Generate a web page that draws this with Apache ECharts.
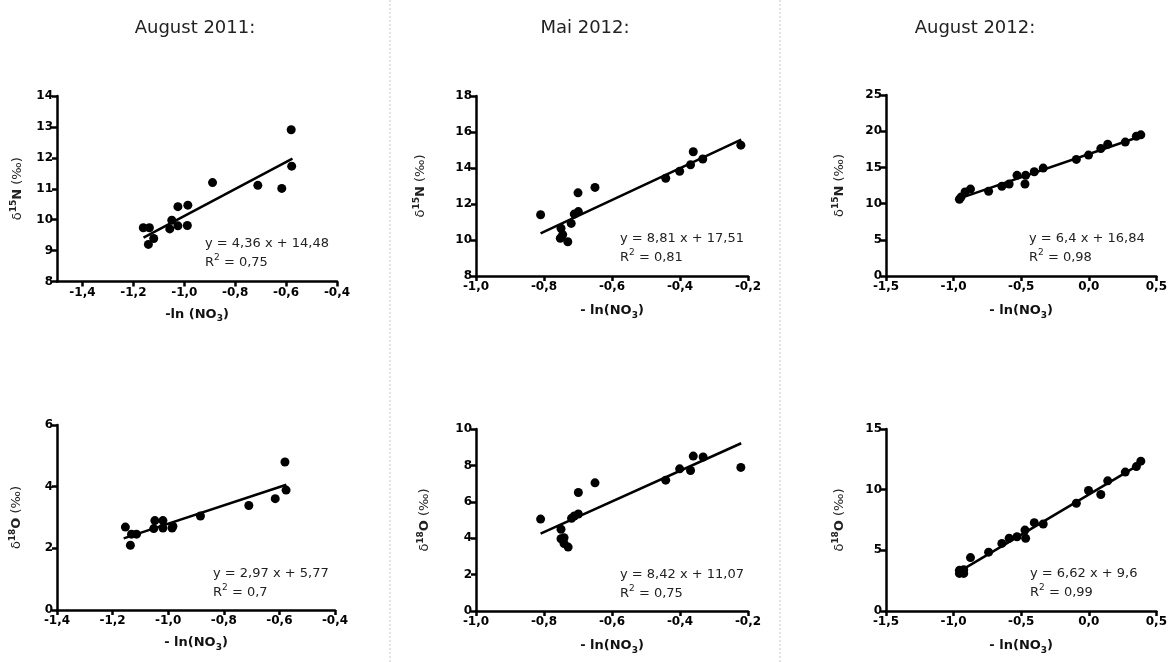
<!DOCTYPE html>
<html><head><meta charset="utf-8">
<script src="https://cdn.jsdelivr.net/npm/echarts@6/dist/echarts.min.js"></script>
<style>html,body{margin:0;padding:0;background:#fff}#c{width:1170px;height:662px}</style>
</head><body><div id="c"></div>
<script>
// ---------- DATA ----------
const columnTitles = ['August 2011:', 'Mai 2012:', 'August 2012:'];

// August 2011
const aug11_x_N = [-1.161,-1.137,-1.141,-1.12,-1.057,-1.049,-1.025,-1.025,-0.988,-0.986,-0.889,-0.711,-0.617,-0.58,-0.578];
const aug11_N   = [9.74,9.74,9.20,9.39,9.70,9.98,10.42,9.80,9.81,10.47,11.20,11.11,11.01,12.91,11.73];
const aug11_x_O = [-1.154,-1.136,-1.132,-1.114,-1.052,-1.048,-1.019,-1.019,-0.986,-0.983,-0.884,-0.71,-0.615,-0.58,-0.576];
const aug11_O   = [2.69,2.10,2.46,2.46,2.64,2.90,2.90,2.66,2.66,2.72,3.05,3.39,3.61,4.80,3.89];

// Mai 2012
const mai12_x_N = [-0.81,-0.75,-0.752,-0.745,-0.73,-0.72,-0.711,-0.70,-0.699,-0.65,-0.442,-0.401,-0.369,-0.361,-0.333,-0.221];
const mai12_N   = [11.4,10.65,10.1,10.3,9.9,10.92,11.44,12.62,11.58,12.92,13.43,13.82,14.18,14.9,14.5,15.27];
const mai12_x_O = [-0.81,-0.75,-0.75,-0.741,-0.741,-0.729,-0.719,-0.711,-0.699,-0.699,-0.65,-0.442,-0.401,-0.369,-0.361,-0.332,-0.221];
const mai12_O   = [5.05,4.49,3.97,4.03,3.71,3.51,5.09,5.22,5.33,6.51,7.04,7.19,7.81,7.72,8.51,8.46,7.89];

// August 2012
const aug12_x_N = [-0.957,-0.945,-0.915,-0.875,-0.741,-0.643,-0.589,-0.531,-0.472,-0.467,-0.403,-0.337,-0.092,-0.002,0.089,0.14,0.27,0.352,0.385];
const aug12_N   = [10.6,10.9,11.6,12.0,11.7,12.4,12.7,13.9,12.7,13.9,14.4,14.9,16.1,16.7,17.6,18.2,18.5,19.3,19.5];
const aug12_x_O = [-0.957,-0.957,-0.925,-0.925,-0.875,-0.741,-0.643,-0.589,-0.531,-0.472,-0.467,-0.403,-0.337,-0.092,-0.002,0.089,0.14,0.27,0.352,0.385];
const aug12_O   = [3.35,3.1,3.1,3.4,4.4,4.85,5.57,6.0,6.12,6.67,5.99,7.28,7.17,8.88,9.93,9.6,10.73,11.45,11.9,12.35];

// Regression (order: Aug11 N, Mai12 N, Aug12 N, Aug11 O, Mai12 O, Aug12 O)
const slopes     = [4.36, 8.81, 6.4, 2.97, 8.42, 6.62];
const intercepts = [14.48, 17.51, 16.84, 5.77, 11.07, 9.6];
const rSquared   = ['0,75', '0,81', '0,98', '0,7', '0,75', '0,99'];
const fitFrom    = [-1.16, -0.81, -0.95, -1.16, -0.81, -0.95];
const fitTo      = [-0.575, -0.22, 0.385, -0.575, -0.22, 0.385];

// Axis scales
const xMins = [-1.5, -1.0, -1.5, -1.4, -1.0, -1.5];
const xMaxs = [-0.4, -0.2, 0.5, -0.4, -0.2, 0.5];
const xSteps = [0.2, 0.2, 0.5, 0.2, 0.2, 0.5];
const xTickValsTL = [-1.4, -1.2, -1.0, -0.8, -0.6, -0.4];
const yMins = [8, 8, 0, 0, 0, 0];
const yMaxs = [14, 18, 25, 6, 10, 15];
const ySteps = [1, 2, 5, 2, 2, 5];
const xNames = ['-ln (NO', '- ln(NO', '- ln(NO', '- ln(NO', '- ln(NO', '- ln(NO'];
const yIso = ['15', '15', '15', '18', '18', '18'];
const yEl  = ['N', 'N', 'N', 'O', 'O', 'O'];

// ---------- LAYOUT ----------
const panels = [
  {left:57,  top:96,  width:280, height:185.5, yGap:31, xGap:24, eq:[205,234]},
  {left:476, top:96,  width:272, height:180,   yGap:47, xGap:26, eq:[620,229]},
  {left:886, top:95,  width:272, height:181,   yGap:38, xGap:26, eq:[1029,229]},
  {left:57,  top:425, width:278, height:185,   yGap:32, xGap:24, eq:[213,564]},
  {left:476, top:429, width:272, height:182,   yGap:43, xGap:26, eq:[620,565]},
  {left:886, top:429, width:272, height:182,   yGap:38, xGap:26, eq:[1030,564]}
];
const xData = [aug11_x_N, mai12_x_N, aug12_x_N, aug11_x_O, mai12_x_O, aug12_x_O];
const yData = [aug11_N, mai12_N, aug12_N, aug11_O, mai12_O, aug12_O];

const FONT = 'DejaVu Sans';
const comma = v => String(v).replace('.', ',');
const fmt1 = v => (Math.abs(v) < 1e-9 ? 0 : v).toFixed(1).replace('.', ',');

const grids = [], xAxes = [], yAxes = [], series = [], graphics = [];
panels.forEach((p, i) => {
  grids.push({left:p.left, top:p.top, width:p.width, height:p.height});
  const axisLine = {onZero:false, lineStyle:{color:'#000', width:2.5}};
  const axisTick = {show:true, length:5, lineStyle:{color:'#000', width:2.5}};
  const xa = {
    gridIndex:i, type:'value', min:xMins[i], max:xMaxs[i], interval:xSteps[i],
    axisLine, axisTick:Object.assign({}, axisTick),
    axisLabel:{formatter:fmt1, fontFamily:FONT, fontWeight:'bold', fontSize:12, color:'#000', margin:5, showMinLabel:true, showMaxLabel:true},
    splitLine:{show:false},
    name:'{b|' + xNames[i] + '}{s|3}{b|)}', nameLocation:'middle', nameGap:p.xGap,
    nameTextStyle:{rich:{
      b:{fontFamily:FONT, fontWeight:'bold', fontSize:13, color:'#111', lineHeight:18},
      s:{fontFamily:FONT, fontWeight:'bold', fontSize:9, color:'#111', verticalAlign:'bottom', lineHeight:18}
    }}
  };
  if (i === 0) {
    xa.axisLabel.customValues = xTickValsTL;
    xa.axisTick.customValues = xTickValsTL;
  }
  xAxes.push(xa);
  yAxes.push({
    gridIndex:i, type:'value', min:yMins[i], max:yMaxs[i], interval:ySteps[i],
    axisLine, axisTick,
    axisLabel:{fontFamily:FONT, fontWeight:'bold', fontSize:12, color:'#000', margin:4},
    splitLine:{show:false},
    name:'{d|δ}{s|' + yIso[i] + '}{n|' + yEl[i] + '}{d| (‰)}', nameLocation:'middle', nameRotate:90, nameGap:p.yGap,
    nameTextStyle:{rich:{
      d:{fontFamily:FONT, fontSize:13, color:'#222', lineHeight:17},
      s:{fontFamily:FONT, fontWeight:'bold', fontSize:9, color:'#222', verticalAlign:'top', lineHeight:17},
      n:{fontFamily:FONT, fontWeight:'bold', fontSize:13, color:'#222', lineHeight:17}
    }}
  });
  series.push({
    type:'line', xAxisIndex:i, yAxisIndex:i, symbol:'none', silent:true, z:2,
    lineStyle:{color:'#000', width:2.5},
    data:[[fitFrom[i], slopes[i]*fitFrom[i] + intercepts[i]], [fitTo[i], slopes[i]*fitTo[i] + intercepts[i]]]
  });
  series.push({
    type:'scatter', xAxisIndex:i, yAxisIndex:i, symbol:'circle', symbolSize:9, z:3,
    itemStyle:{color:'#000', opacity:1},
    data:xData[i].map((x, k) => [x, yData[i][k]])
  });
  graphics.push({
    type:'text', x:p.eq[0], y:p.eq[1],
    style:{
      text:'y = ' + comma(slopes[i]) + ' x + ' + comma(intercepts[i]) + '\nR{sup|2} = ' + rSquared[i],
      fontFamily:FONT, fontSize:13, fill:'#222', lineHeight:19, align:'left', verticalAlign:'top',
      rich:{sup:{fontFamily:FONT, fontSize:9, fill:'#222', verticalAlign:'top', lineHeight:19}}
    }
  });
});

[195, 585, 975].forEach((cx, j) => {
  graphics.push({type:'text', x:cx, y:28, style:{text:columnTitles[j], fontFamily:FONT, fontSize:18, fill:'#222', align:'center', verticalAlign:'middle'}});
});
[390, 780].forEach(sx => {
  graphics.push({type:'line', shape:{x1:sx, y1:0, x2:sx, y2:662}, style:{stroke:'#c8c8c8', lineWidth:1, lineDash:[2,2]}});
});

const chart = echarts.init(document.getElementById('c'));
chart.setOption({
  animation:false,
  backgroundColor:'#fff',
  grid:grids, xAxis:xAxes, yAxis:yAxes, series:series, graphic:graphics
});
</script>
</body></html>
